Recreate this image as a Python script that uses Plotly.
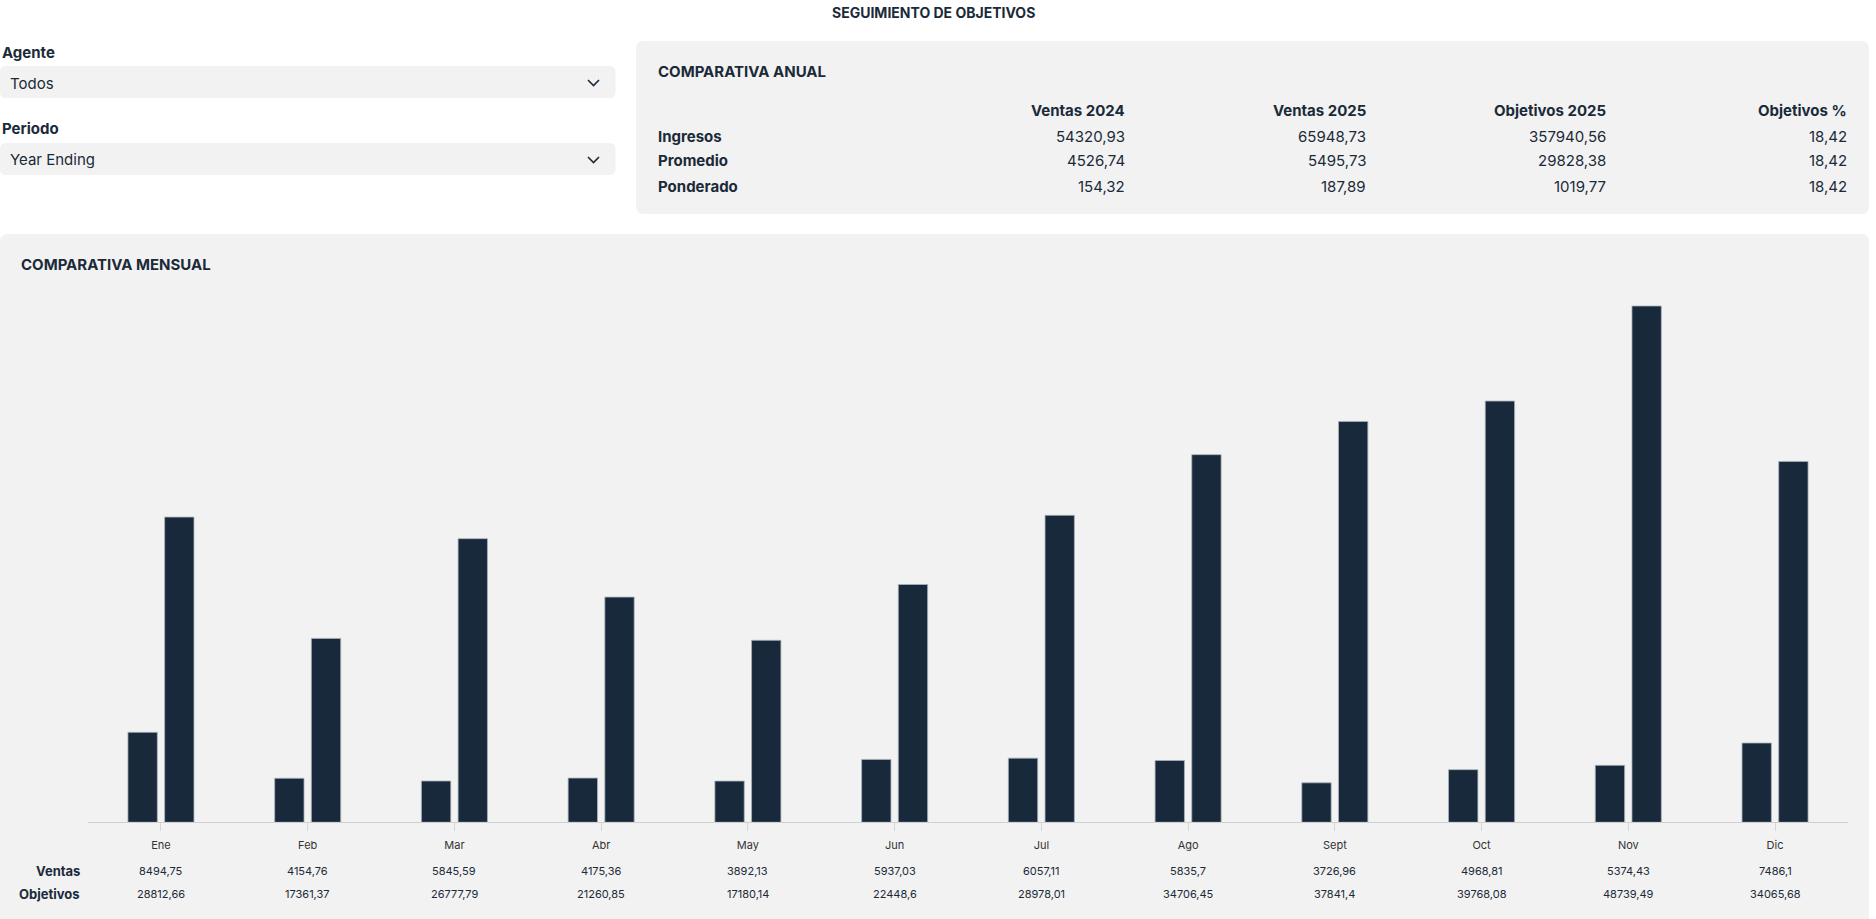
import plotly.graph_objects as go

# Monthly data (table rows under the chart)
months = ["Ene", "Feb", "Mar", "Abr", "May", "Jun", "Jul", "Ago", "Sept", "Oct", "Nov", "Dic"]
ventas = [8494.75, 4154.76, 5845.59, 4175.36, 3892.13, 5937.03, 6057.11, 5835.7, 3726.96, 4968.81, 5374.43, 7486.1]
objetivos = [28812.66, 17361.37, 26777.79, 21260.85, 17180.14, 22448.6, 28978.01, 34706.45, 37841.4, 39768.08, 48739.49, 34065.68]
# heights of the Ventas bars as drawn (Mar bar is lower than its label)
ventas_barras = [8494.75, 4154.76, 3900, 4175.36, 3892.13, 5937.03, 6057.11, 5835.7, 3726.96, 4968.81, 5374.43, 7486.1]

# Annual comparison table
annual_cols = ["Ventas 2024", "Ventas 2025", "Objetivos 2025", "Objetivos %"]
annual_rows = ["Ingresos", "Promedio", "Ponderado"]
ventas_2024 = [54320.93, 4526.74, 154.32]
ventas_2025 = [65948.73, 5495.73, 187.89]
objetivos_2025 = [357940.56, 29828.38, 1019.77]
objetivos_pct = [18.42, 18.42, 18.42]

# Filters
agente = "Todos"
periodo = "Year Ending"

W, H = 1876, 919
DARK = "#17293A"
TEXT = "#1B2A38"
PANEL = "#F2F2F2"
FONT = "Inter"


def px(x):
    return x / W


def py(y):
    return 1 - y / H


def rounded_rect(x0, y0, x1, y1, r=8):
    # pixel coords -> paper path with rounded corners
    pts = [
        f"M {px(x0 + r)} {py(y0)}",
        f"L {px(x1 - r)} {py(y0)}",
        f"Q {px(x1)} {py(y0)} {px(x1)} {py(y0 + r)}",
        f"L {px(x1)} {py(y1 - r)}",
        f"Q {px(x1)} {py(y1)} {px(x1 - r)} {py(y1)}",
        f"L {px(x0 + r)} {py(y1)}",
        f"Q {px(x0)} {py(y1)} {px(x0)} {py(y1 - r)}",
        f"L {px(x0)} {py(y0 + r)}",
        f"Q {px(x0)} {py(y0)} {px(x0 + r)} {py(y0)}",
        "Z",
    ]
    return dict(type="path", path=" ".join(pts), xref="paper", yref="paper",
                fillcolor=PANEL, line=dict(width=0), layer="below")


def fmt(v, dec=None):
    s = f"{v:.{dec}f}" if dec is not None else str(v)
    return s.replace(".", ",")


def label(x, y, text, size=15, bold=False, anchor="left", color=TEXT):
    return dict(x=px(x), y=py(y), xref="paper", yref="paper", text=f"<b>{text}</b>" if bold else text,
                showarrow=False, xanchor=anchor, yanchor="middle",
                font=dict(family=FONT, size=size, color=color))


fig = go.Figure()

fig.add_trace(go.Bar(x=months, y=ventas_barras, name="Ventas", width=0.2, offset=-0.225,
                     marker=dict(color=DARK, line=dict(width=0.8, color="#A9B1BA")), hoverinfo="y"))
fig.add_trace(go.Bar(x=months, y=objetivos, name="Objetivos", width=0.2, offset=0.025,
                     marker=dict(color=DARK, line=dict(width=0.8, color="#A9B1BA")), hoverinfo="y"))

shapes = [
    rounded_rect(0, 66, 615.5, 98, 6),
    rounded_rect(0, 143, 615.5, 175, 6),
    rounded_rect(636, 41, 1869, 214, 8),
    rounded_rect(0, 234, 1869, 925, 8),
]
# dropdown chevrons
for yc in (83, 160):
    shapes.append(dict(type="path", xref="paper", yref="paper",
                       path=f"M {px(588)} {py(yc - 3)} L {px(593.5)} {py(yc + 2.5)} L {px(599)} {py(yc - 3)}",
                       line=dict(color=TEXT, width=1.6)))

annotations = [
    label(933, 12, "SEGUIMIENTO DE OBJETIVOS", 14, True, "center"),
    label(0, 52, "Agente", 15, True),
    label(8, 83, agente, 15),
    label(0, 129, "Periodo", 15, True),
    label(8, 160, periodo, 15),
    label(656, 71, "COMPARATIVA ANUAL", 15, True),
    label(19, 264, "COMPARATIVA MENSUAL", 15, True),
]

col_right = [1127, 1368, 1608, 1849]
for xr, name in zip(col_right, annual_cols):
    annotations.append(label(xr, 110, name, 15, True, "right"))
row_y = [136, 161, 186]
for i, (yr, name) in enumerate(zip(row_y, annual_rows)):
    annotations.append(label(656, yr, name, 15, True))
    for xr, col in zip(col_right, [ventas_2024, ventas_2025, objetivos_2025, objetivos_pct]):
        annotations.append(label(xr, yr, fmt(col[i], 2), 15, False, "right"))

# Monthly values under the axis
annotations.append(label(82, 871, "Ventas", 13, True, "right"))
annotations.append(label(82, 894, "Objetivos", 13, True, "right"))
for m, v, o in zip(months, ventas, objetivos):
    annotations.append(dict(x=m, y=py(871), xref="x", yref="paper", text=fmt(v), showarrow=False,
                            yanchor="middle", font=dict(family=FONT, size=11, color=TEXT)))
    annotations.append(dict(x=m, y=py(894), xref="x", yref="paper", text=fmt(o), showarrow=False,
                            yanchor="middle", font=dict(family=FONT, size=11, color=TEXT)))

plot_bottom = 822.3
plot_top = 280.2

fig.update_layout(
    width=W, height=H,
    margin=dict(l=0, r=0, t=0, b=0),
    paper_bgcolor="white",
    plot_bgcolor="rgba(0,0,0,0)",
    barmode="overlay",
    showlegend=False,
    shapes=shapes,
    annotations=annotations,
    font=dict(family=FONT, color=TEXT),
    xaxis=dict(domain=[px(87.6), px(1848.4)], showgrid=False, showline=True, linecolor="#CFCFD6",
               linewidth=1, ticks="outside", ticklen=8, tickcolor="#D5D5DC", ticklabelstandoff=4,
               tickfont=dict(family=FONT, size=11, color="#333"), fixedrange=True),
    yaxis=dict(domain=[py(plot_bottom), py(plot_top)], range=[0, max(objetivos) * 1.05],
               showgrid=False, zeroline=False, showticklabels=False, fixedrange=True),
)

# the page body has a default 8px margin; remove it so the figure fills the window
fig.write_html("out.html", config={"displayModeBar": False},
               post_script="document.body.style.margin='0';")
